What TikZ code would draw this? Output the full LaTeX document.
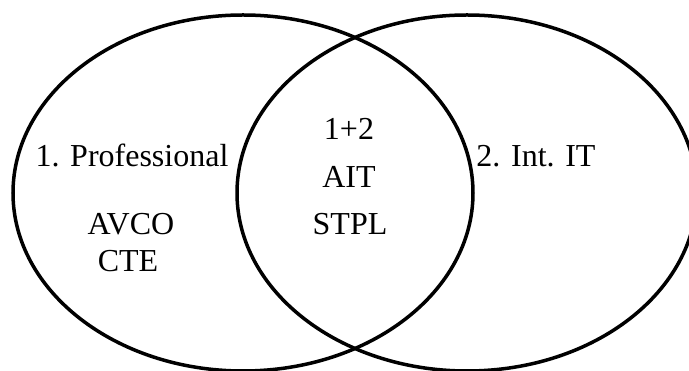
\documentclass[tikz,border=0pt]{standalone}
\usepackage{fontspec}
\setmainfont{Liberation Serif}
\usetikzlibrary{positioning}
\tikzstyle{base}=[inner sep=0pt, outer sep=0pt]
\tikzstyle{set}=[draw=black, line width=3.5pt, x radius=230pt, y radius=178pt]
\tikzstyle{lbl}=[anchor=base, font=\fontsize{32}{36}\selectfont]

\begin{document}
\begin{tikzpicture}[base]
    \clip (0pt,0pt) rectangle (689pt,371pt);
    \useasboundingbox (0pt,0pt) rectangle (689pt,371pt);
        % the two sets
        \coordinate (prof) at (243pt,178pt);
        \coordinate (intit) at (467pt,178pt);
        \draw [set] (prof) ellipse [];
        \draw [set] (intit) ellipse [];
        % left set
        \node [lbl] (proftitle) at (132pt,204pt) {1. Professional};
        \node [lbl] (avco) at (131pt,136pt) {AVCO};
        \node [lbl] (cte) at (128pt,99pt) {CTE};
        % overlap
        \node [lbl] (both) at (349pt,231pt) {1+2};
        \node [lbl] (ait) at (349pt,183pt) {AIT};
        \node [lbl] (stpl) at (350pt,136pt) {STPL};
        % right set
        \node [lbl] (intittitle) at (536pt,204pt) {2. Int. IT};
\end{tikzpicture}
\end{document}
